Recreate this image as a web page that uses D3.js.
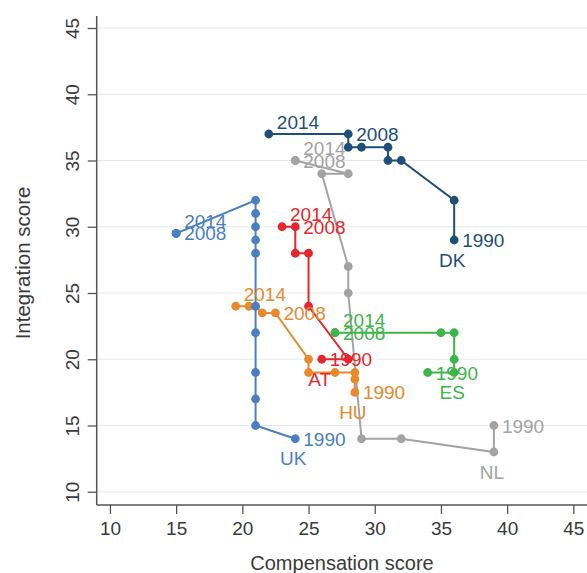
<!DOCTYPE html>
<html>
<head>
<meta charset="utf-8">
<script src="https://cdn.jsdelivr.net/npm/d3@7"></script>
<style>
  html, body { margin: 0; padding: 0; background: #ffffff; }
  svg { display: block; font-family: "Liberation Sans", Arial, sans-serif; }
</style>
</head>
<body>
<svg id="chart" width="587" height="573"></svg>
<script>
// ---- data ----
const countryNames = ["NL", "DK", "AT", "HU", "ES", "UK"];

const nlCompensation = [39, 39, 32, 29, 28, 28, 26, 28, 24, 24];
const nlIntegration  = [15, 13, 14, 14, 25, 27, 34, 34, 35, 35];
const nlYears        = ["1990", "", "", "", "", "", "", "", "2008", "2014"];

const dkCompensation = [36, 36, 32, 31, 31, 29, 28, 28, 22];
const dkIntegration  = [29, 32, 35, 35, 36, 36, 36, 37, 37];
const dkYears        = ["1990", "", "", "", "", "", "", "2008", "2014"];

const atCompensation = [26, 28, 25, 25, 24, 24, 23];
const atIntegration  = [20, 20, 24, 28, 28, 30, 30];
const atYears        = ["1990", "", "", "", "", "2008", "2014"];

const huCompensation = [28.5, 28.5, 28.5, 27, 25, 25, 22.5, 21.5, 21, 20.5, 19.5];
const huIntegration  = [17.5, 18.5, 19, 19, 19, 20, 23.5, 23.5, 24, 24, 24];
const huYears        = ["1990", "", "", "", "", "", "2008", "", "", "", "2014"];

const esCompensation = [34, 36, 36, 36, 35, 27, 27];
const esIntegration  = [19, 19, 20, 22, 22, 22, 22];
const esYears        = ["1990", "", "", "", "", "2008", "2014"];

const ukCompensation = [24, 21, 21, 21, 21, 21, 21, 21, 21, 21, 21, 15, 15];
const ukIntegration  = [14, 15, 17, 19, 22, 24, 28, 29, 30, 31, 32, 29.5, 29.5];
const ukYears        = ["1990", "", "", "", "", "", "", "", "", "", "", "2008", "2014"];

// index of the point under which the country name is written
const nameAnchorIndex = [1, 0, 0, 0, 1, 0];

const xTicks = [10, 15, 20, 25, 30, 35, 40, 45];
const yTicks = [10, 15, 20, 25, 30, 35, 40, 45];
const xTitle = "Compensation score";
const yTitle = "Integration score";

// ---- styles ----
const seriesColors = ["#a3a3a3", "#1f4e79", "#e5262c", "#e8892d", "#3db54a", "#4a80c2"];

const compensation = [nlCompensation, dkCompensation, atCompensation, huCompensation, esCompensation, ukCompensation];
const integration  = [nlIntegration, dkIntegration, atIntegration, huIntegration, esIntegration, ukIntegration];
const years        = [nlYears, dkYears, atYears, huYears, esYears, ukYears];

const series = countryNames.map((name, i) => ({
  name,
  color: seriesColors[i],
  anchor: nameAnchorIndex[i],
  points: compensation[i].map((c, j) => ({ x: c, y: integration[i][j], year: years[i][j] }))
}));

// ---- layout ----
const svg = d3.select("#chart");
const x = d3.scaleLinear().domain([9, 46]).range([96.7, 96.7 + 37 * 13.24]);
const y = d3.scaleLinear().domain([9, 46]).range([505, 505 - 37 * 13.25]);

const axisColor = "#555555";
const textColor = "#3a3a3a";

// gridlines
svg.append("g").selectAll("line").data(yTicks).join("line")
  .attr("x1", x(9)).attr("x2", 587)
  .attr("y1", d => y(d)).attr("y2", d => y(d))
  .attr("stroke", "#e3ebef").attr("stroke-width", 1.2);

// x axis
const gx = svg.append("g").attr("transform", `translate(0,${y(9)})`)
  .call(d3.axisBottom(x).tickValues(xTicks).tickSize(9).tickPadding(8).tickFormat(d3.format("d")));
gx.select(".domain").attr("stroke", axisColor).attr("stroke-width", 1.5).attr("d", `M${x(9)},0H587`);
gx.selectAll(".tick line").attr("stroke", axisColor).attr("stroke-width", 1.3);
gx.selectAll(".tick text").attr("fill", textColor).attr("font-size", 19).attr("font-family", "Liberation Sans, Arial, sans-serif");

// y axis
const gy = svg.append("g").attr("transform", `translate(${x(9)},0)`)
  .call(d3.axisLeft(y).tickValues(yTicks).tickSize(9).tickPadding(0).tickFormat(d3.format("d")));
gy.select(".domain").attr("stroke", axisColor).attr("stroke-width", 1.5).attr("d", `M0,${y(9)}V${y(45.9)}`);
gy.selectAll(".tick line").attr("stroke", axisColor).attr("stroke-width", 1.3);
gy.selectAll(".tick text")
  .attr("fill", textColor).attr("font-size", 19).attr("font-family", "Liberation Sans, Arial, sans-serif")
  .attr("x", null).attr("dy", null)
  .attr("text-anchor", "middle").attr("dominant-baseline", "central")
  .attr("transform", "translate(-24,0) rotate(-90)");

// axis titles
svg.append("text").attr("x", 342).attr("y", 563)
  .attr("text-anchor", "middle").attr("dominant-baseline", "central")
  .attr("font-size", 20).attr("fill", textColor).text(xTitle);
svg.append("text").attr("transform", "translate(22,263) rotate(-90)")
  .attr("text-anchor", "middle").attr("dominant-baseline", "central")
  .attr("font-size", 20.5).attr("fill", textColor).text(yTitle);

// series
const line = d3.line().x(d => x(d.x)).y(d => y(d.y));
const gs = svg.append("g");
series.forEach(s => {
  const g = gs.append("g");
  g.append("path").datum(s.points).attr("d", line)
    .attr("fill", "none").attr("stroke", s.color).attr("stroke-width", 2);
  g.selectAll("circle").data(s.points).join("circle")
    .attr("cx", d => x(d.x)).attr("cy", d => y(d.y)).attr("r", 4.4)
    .attr("fill", s.color);
});

// labels (2014 above-right, 2008 and 1990 to the right, as in the original)
const gl = svg.append("g").attr("font-size", 19);
series.forEach(s => {
  s.points.forEach(p => {
    if (!p.year) return;
    const up = p.year === "2014";
    gl.append("text")
      .attr("x", x(p.x) + 8)
      .attr("y", y(p.y) + (up ? -12 : 0.5))
      .attr("dominant-baseline", "central")
      .attr("fill", s.color)
      .text(p.year);
  });
  const a = s.points[s.anchor];
  gl.append("text")
    .attr("x", x(a.x) - 2)
    .attr("y", y(a.y) + 20)
    .attr("text-anchor", "middle")
    .attr("dominant-baseline", "central")
    .attr("fill", s.color)
    .text(s.name);
});
</script>
</body>
</html>
